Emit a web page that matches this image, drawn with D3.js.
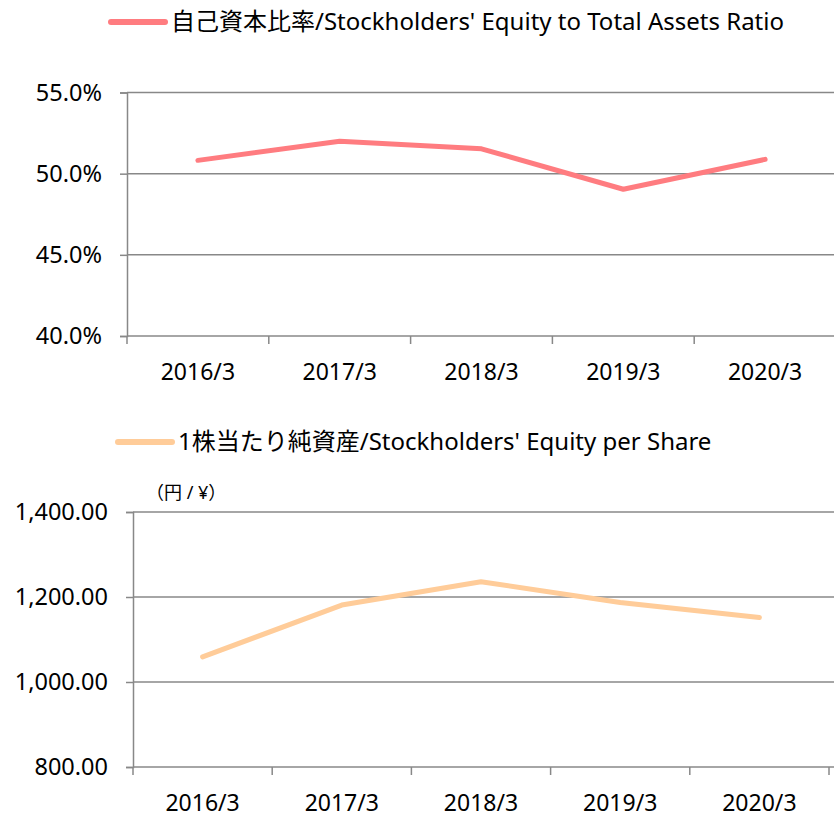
<!DOCTYPE html>
<html>
<head>
<meta charset="utf-8">
<script src="https://cdn.jsdelivr.net/npm/d3@7"></script>
<style>
  body { margin: 0; background: #fff; }
  text { font-family: "Noto Sans", "Noto Sans CJK JP", sans-serif; fill: #000; }
</style>
</head>
<body>
<div id="chart"></div>
<script>
'use strict';

var years = ['2016/3', '2017/3', '2018/3', '2019/3', '2020/3'];
var equityRatio = [50.82, 52.0, 51.53, 49.04, 50.88];
var equityPerShare = [1059, 1181, 1236, 1187, 1152];
var ratioTicks = [40, 45, 50, 55];
var shareTicks = [800, 1000, 1200, 1400];

var svg = d3.select('#chart').append('svg')
  .attr('width', 834).attr('height', 817);

function drawPanel(opt) {
  var g = svg.append('g');

  var x = d3.scaleBand().domain(years).range([opt.left, opt.right]).padding(0);
  var y = d3.scaleLinear().domain(opt.domain).range([opt.bottom, opt.top]);

  // gridlines
  g.selectAll('.grid').data(opt.ticks).enter().append('line')
    .attr('x1', opt.left).attr('x2', 834)
    .attr('y1', d => y(d)).attr('y2', d => y(d))
    .attr('stroke', '#888').attr('stroke-width', 1.5);

  // y axis
  var yAxis = d3.axisLeft(y).tickValues(opt.ticks).tickSize(7).tickPadding(18)
    .tickFormat(opt.fmt);
  var ya = g.append('g').attr('transform', 'translate(' + opt.left + ',0)').call(yAxis);
  ya.select('.domain').attr('stroke', '#888').attr('stroke-width', 1.5);
  ya.selectAll('.tick line').attr('stroke', '#888').attr('stroke-width', 1.5);
  ya.selectAll('.tick text').style('font-size', '23.5px').attr('fill', '#000');

  // x axis: ticks between categories
  var xa = g.append('g');
  var bounds = years.map(d => x(d)).concat([opt.right]);
  xa.selectAll('line').data(bounds).enter().append('line')
    .attr('x1', d => d).attr('x2', d => d)
    .attr('y1', opt.bottom).attr('y2', opt.bottom + 8)
    .attr('stroke', '#888').attr('stroke-width', 1.5);
  xa.selectAll('text').data(years).enter().append('text')
    .attr('x', d => x(d) + x.bandwidth() / 2)
    .attr('y', opt.bottom + 44)
    .attr('text-anchor', 'middle')
    .style('font-size', '23px')
    .text(d => d);

  // data line
  var line = d3.line()
    .x((d, i) => x(years[i]) + x.bandwidth() / 2)
    .y(d => y(d));
  g.append('path').datum(opt.values)
    .attr('d', line)
    .attr('fill', 'none')
    .attr('stroke', opt.color)
    .attr('stroke-width', 5)
    .attr('stroke-linejoin', 'round')
    .attr('stroke-linecap', 'round');

  // legend
  g.append('line')
    .attr('x1', opt.legendX).attr('x2', opt.legendX + 54)
    .attr('y1', opt.legendY).attr('y2', opt.legendY)
    .attr('stroke', opt.color).attr('stroke-width', 6)
    .attr('stroke-linecap', 'round');
  g.append('text')
    .attr('x', opt.legendX + 60).attr('y', opt.legendY)
    .attr('dy', '0.35em')
    .style('font-size', '24px')
    .text(opt.label);
}

drawPanel({
  left: 127, right: 836, top: 92.5, bottom: 336,
  domain: [40, 55], ticks: ratioTicks,
  fmt: d => d.toFixed(1) + '%',
  values: equityRatio, color: '#ff7c80',
  legendX: 111, legendY: 22,
  label: '自己資本比率/Stockholders\' Equity to Total Assets Ratio'
});

drawPanel({
  left: 133, right: 829, top: 512, bottom: 767,
  domain: [800, 1400], ticks: shareTicks,
  fmt: d3.format(',.2f'),
  values: equityPerShare, color: '#ffcc99',
  legendX: 118, legendY: 442,
  label: '1株当たり純資産/Stockholders\' Equity per Share'
});

svg.append('text')
  .attr('x', 146).attr('y', 493)
  .attr('dy', '0.35em')
  .style('font-size', '18px')
  .text('（円 / ¥）');
</script>
</body>
</html>
